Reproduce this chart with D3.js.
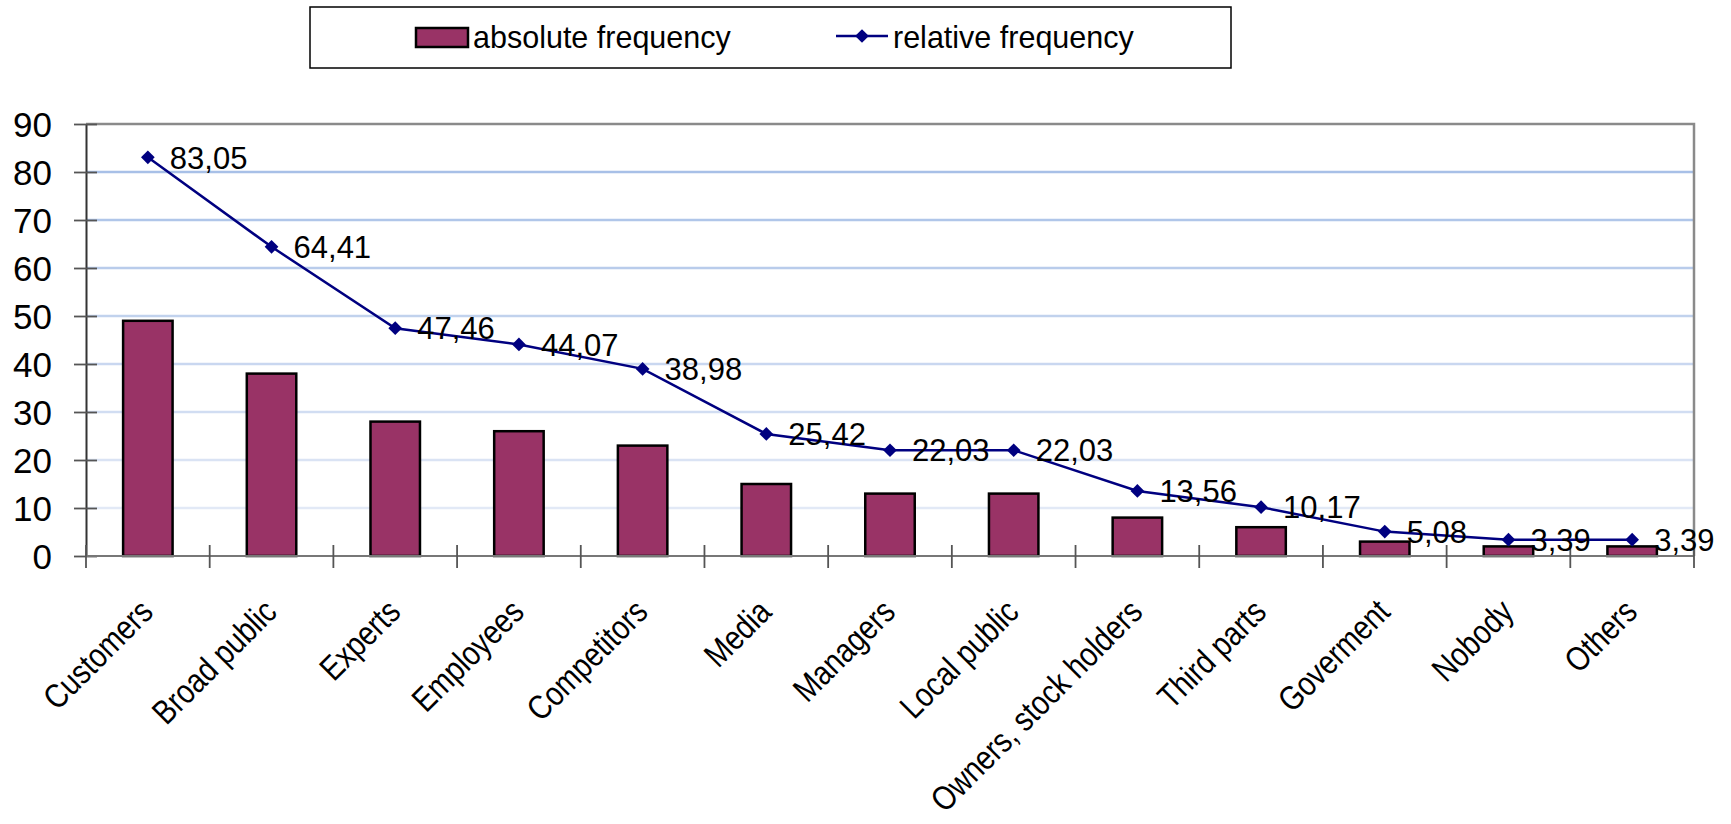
<!DOCTYPE html>
<html>
<head>
<meta charset="utf-8">
<script src="https://cdn.jsdelivr.net/npm/d3@7"></script>
<style>
  html, body { margin: 0; padding: 0; background: #fff; }
  svg { display: block; font-family: "Liberation Sans", Arial, sans-serif; }
</style>
</head>
<body>
<svg id="chart" width="1731" height="824"></svg>
<script>
// Who the communication is aimed at: counts and shares (%) of respondents
const categories = ["Customers", "Broad public", "Experts", "Employees", "Competitors", "Media",
  "Managers", "Local public", "Owners, stock holders", "Third parts", "Goverment", "Nobody", "Others"];
const absoluteFrequency = [49, 38, 28, 26, 23, 15, 13, 13, 8, 6, 3, 2, 2];
const relativeFrequency = [83.05, 64.41, 47.46, 44.07, 38.98, 25.42, 22.03, 22.03, 13.56, 10.17, 5.08, 3.39, 3.39];
const yTicks = [0, 10, 20, 30, 40, 50, 60, 70, 80, 90];
const legendLabels = ["absolute frequency", "relative frequency"];

const svg = d3.select("#chart");
const plot = { left: 86, right: 1694, top: 124, bottom: 556 };

const x = d3.scaleBand()
  .domain(categories)
  .range([plot.left, plot.right])
  .paddingInner(0.6)
  .paddingOuter(0.3);
const step = x.step();
const y = d3.scaleLinear().domain([0, 90]).range([plot.bottom, plot.top]);

const barFill = "#993366";
const lineColor = "#000080";
const gridShade = d3.scaleLinear().domain([10, 80]).range(["#e2e9f6", "#a8c0e7"]);

// horizontal gridlines
svg.append("g")
  .selectAll("line")
  .data(yTicks.filter(t => t > 0 && t < 90))
  .join("line")
  .attr("x1", plot.left).attr("x2", plot.right)
  .attr("y1", d => y(d)).attr("y2", d => y(d))
  .attr("stroke", d => gridShade(d))
  .attr("stroke-width", 2.5);

// plot frame: top and right edges
svg.append("path")
  .attr("d", `M${plot.left},${y(90)}H${plot.right}V${plot.bottom}`)
  .attr("fill", "none")
  .attr("stroke", "#8a8a8a")
  .attr("stroke-width", 2.5);

// y axis
const yAxis = d3.axisLeft(y).tickValues(yTicks).tickSize(12).tickSizeOuter(0).tickPadding(22);
const gy = svg.append("g").attr("transform", `translate(${plot.left},0)`).call(yAxis);
gy.select(".domain").attr("stroke", "#333").attr("stroke-width", 2);
gy.selectAll(".tick line").attr("x2", -12).attr("x1", 11).attr("stroke", "#555").attr("stroke-width", 1.8);
gy.selectAll(".tick text")
  .attr("font-size", 35)
  .attr("fill", "#000")
  .attr("font-family", "Liberation Sans, Arial, sans-serif")
  .attr("x", -34)
  .attr("dy", "0.36em");

// bars
svg.append("g")
  .selectAll("rect")
  .data(categories)
  .join("rect")
  .attr("x", d => x(d))
  .attr("width", x.bandwidth())
  .attr("y", (d, i) => y(absoluteFrequency[i]))
  .attr("height", (d, i) => y(0) - y(absoluteFrequency[i]))
  .attr("fill", barFill)
  .attr("stroke", "#000")
  .attr("stroke-width", 2.5);

// x axis line and category separators
svg.append("line")
  .attr("x1", plot.left).attr("x2", plot.right)
  .attr("y1", y(0)).attr("y2", y(0))
  .attr("stroke", "#777").attr("stroke-width", 2);
svg.append("g")
  .selectAll("line")
  .data(d3.range(categories.length + 1))
  .join("line")
  .attr("x1", i => plot.left + i * step).attr("x2", i => plot.left + i * step)
  .attr("y1", y(0) - 11).attr("y2", y(0) + 12)
  .attr("stroke", "#555").attr("stroke-width", 1.8);

// category labels, rotated and slightly condensed
svg.append("g")
  .selectAll("text")
  .data(categories)
  .join("text")
  .attr("transform", d => `translate(${x(d) + x.bandwidth() / 2 + 7},${plot.bottom + 58}) rotate(-45) scale(0.84,1)`)
  .attr("text-anchor", "end")
  .attr("font-size", 34)
  .attr("fill", "#000")
  .text(d => d);

// relative frequency line
const pts = categories.map((c, i) => [x(c) + x.bandwidth() / 2, y(relativeFrequency[i])]);
svg.append("path")
  .attr("d", d3.line()(pts))
  .attr("fill", "none")
  .attr("stroke", lineColor)
  .attr("stroke-width", 2.5);

const diamond = d3.symbol().type(d3.symbolDiamond2).size(120);
svg.append("g")
  .selectAll("path")
  .data(pts)
  .join("path")
  .attr("transform", d => `translate(${d[0]},${d[1]})`)
  .attr("d", diamond)
  .attr("fill", lineColor);

// value labels
svg.append("g")
  .selectAll("text")
  .data(pts)
  .join("text")
  .attr("x", d => d[0] + 22)
  .attr("y", d => d[1])
  .attr("dy", "0.36em")
  .attr("font-size", 31)
  .attr("fill", "#000")
  .text((d, i) => relativeFrequency[i].toFixed(2).replace(".", ","));

// legend
const lg = svg.append("g");
lg.append("rect")
  .attr("x", 310).attr("y", 7).attr("width", 921).attr("height", 61)
  .attr("fill", "#fff").attr("stroke", "#000").attr("stroke-width", 1.5);
lg.append("rect")
  .attr("x", 416).attr("y", 28).attr("width", 52).attr("height", 19)
  .attr("fill", barFill).attr("stroke", "#000").attr("stroke-width", 2.5);
lg.append("text")
  .attr("x", 473).attr("y", 37).attr("dy", "0.36em")
  .attr("font-size", 30.5).text(legendLabels[0]);
lg.append("line")
  .attr("x1", 836).attr("x2", 888).attr("y1", 36).attr("y2", 36)
  .attr("stroke", lineColor).attr("stroke-width", 2.5);
lg.append("path")
  .attr("transform", "translate(862,36)")
  .attr("d", diamond).attr("fill", lineColor);
lg.append("text")
  .attr("x", 893).attr("y", 37).attr("dy", "0.36em")
  .attr("font-size", 30.5).text(legendLabels[1]);
</script>
</body>
</html>
